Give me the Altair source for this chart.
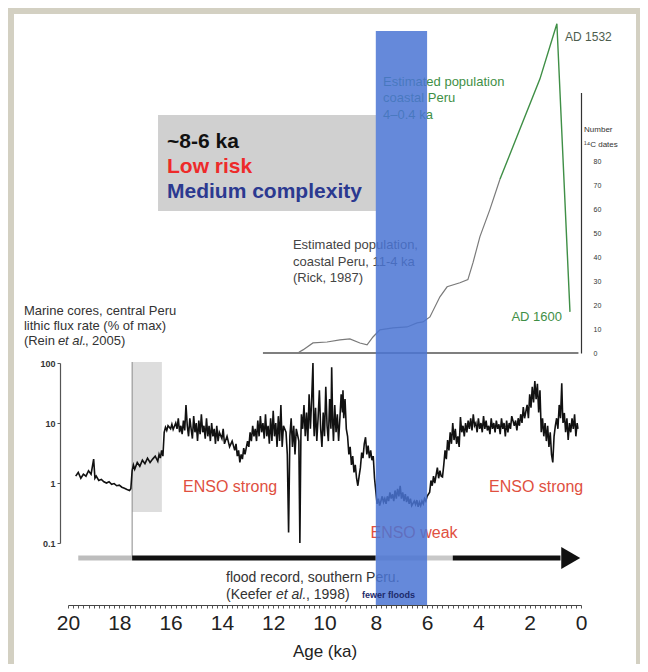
import altair as alt
import pandas as pd

# ---------------- data ----------------
# Marine core lithic flux rate (% of max)
flux_age = [19.7, 19.6, 19.5, 19.4, 19.3, 19.2, 19.1, 19.0, 18.95, 18.9, 18.8, 18.7, 18.6, 18.5, 18.4, 18.3,
            18.2, 18.1, 18.0, 17.9, 17.8, 17.7, 17.6, 17.55,
            17.5, 17.45, 17.4, 17.3, 17.2, 17.1, 17.0, 16.9, 16.8, 16.7, 16.6, 16.5, 16.45, 16.4, 16.35, 16.3,
            16.25, 16.2, 16.15, 16.1, 16.0, 15.95, 15.9, 15.8, 15.75, 15.7, 15.65, 15.6, 15.55, 15.5, 15.45,
            15.4, 15.35, 15.3, 15.25, 15.2, 15.15, 15.1, 15.05, 15.0, 14.95, 14.9, 14.85, 14.8, 14.75, 14.7,
            14.65, 14.6, 14.55, 14.5, 14.45, 14.4, 14.35, 14.3, 14.25, 14.2, 14.15, 14.1, 14.0, 13.95, 13.9,
            13.8, 13.7, 13.6, 13.5, 13.45, 13.4, 13.35, 13.3, 13.25, 13.2, 13.15, 13.1, 13.0, 12.95, 12.9,
            12.85, 12.8, 12.75, 12.7, 12.65, 12.6, 12.55, 12.5, 12.45, 12.4, 12.35, 12.3, 12.25, 12.2, 12.15,
            12.1, 12.05, 12.0, 11.95, 11.9, 11.85, 11.8, 11.75, 11.7, 11.65, 11.6,
            11.5, 11.45, 11.4, 11.35, 11.3, 11.25, 11.2, 11.15, 11.1, 11.0, 10.96, 10.92, 10.9,
            10.85, 10.8, 10.75, 10.7, 10.65, 10.6, 10.55, 10.5, 10.45, 10.42, 10.4, 10.35, 10.3, 10.25, 10.2,
            10.15, 10.1, 10.05, 10.0, 9.95, 9.9, 9.85, 9.8, 9.75, 9.72, 9.68, 9.65, 9.6, 9.55, 9.5, 9.45,
            9.4, 9.35, 9.3, 9.28, 9.25, 9.2, 9.15, 9.1,
            9.05, 9.0, 8.95, 8.9, 8.85, 8.8, 8.75, 8.7, 8.65, 8.6, 8.55, 8.5, 8.45, 8.4, 8.35, 8.3, 8.25,
            8.2, 8.15, 8.1, 8.05,
            7.95, 7.9, 7.85, 7.8, 7.75, 7.7, 7.65, 7.6, 7.55, 7.5, 7.45, 7.4, 7.35, 7.3, 7.25, 7.2, 7.15,
            7.1, 7.05, 7.0, 6.95, 6.9, 6.85, 6.8, 6.75, 6.7, 6.65, 6.6, 6.5, 6.45, 6.4, 6.35, 6.3, 6.25,
            6.2, 6.15, 6.1, 6.05, 6.0,
            5.9, 5.85, 5.8, 5.75, 5.7, 5.6, 5.55, 5.5, 5.45, 5.4, 5.35, 5.3, 5.25, 5.2, 5.15, 5.1, 5.05,
            5.0, 4.95, 4.9, 4.85, 4.8, 4.75, 4.7, 4.65, 4.6, 4.55, 4.5,
            4.45, 4.4, 4.35, 4.3, 4.25, 4.2, 4.15, 4.1, 4.05, 4.0, 3.95, 3.9, 3.85, 3.8, 3.75, 3.7, 3.65,
            3.6, 3.55, 3.5, 3.45, 3.4, 3.35, 3.3, 3.25, 3.2, 3.15, 3.1, 3.05, 3.0, 2.95, 2.9, 2.85, 2.8,
            2.75, 2.7, 2.6, 2.55, 2.5, 2.45, 2.4, 2.35, 2.3, 2.25, 2.2,
            2.1, 2.05, 2.0, 1.95, 1.9, 1.85, 1.8, 1.75, 1.7, 1.65, 1.6, 1.55, 1.5, 1.45, 1.4, 1.35, 1.3,
            1.25, 1.2, 1.15, 1.1, 1.05, 1.0, 0.95, 0.9, 0.85, 0.8, 0.75, 0.72, 0.7, 0.65, 0.6, 0.55, 0.5,
            0.45, 0.4, 0.35, 0.3, 0.25, 0.2, 0.15, 0.12]
flux_val = [1.3, 1.5, 1.2, 1.4, 1.3, 1.6, 1.4, 2.5, 1.2, 1.3, 1.1, 1.15, 1.05, 1.0, 1.05, 0.95,
            0.98, 0.9, 0.92, 0.85, 0.82, 0.78, 0.75, 0.8,
            1.6, 2.0, 1.7, 2.2, 1.9, 2.4, 2.1, 2.6, 2.2, 2.5, 2.8, 2.3, 3.0, 2.6, 3.5, 2.8,
            7.0, 8.5, 7.5, 9, 8, 9.5, 7.8, 10, 8, 12, 7, 9, 6.5, 11, 7.5,
            20, 9, 6, 12, 8, 5.5, 13, 7, 10, 5, 11, 6.5, 14, 7, 9,
            5.5, 12, 6, 9, 5, 10, 6, 8, 4.5, 9, 5, 7, 5.5, 8, 4.5,
            6, 4, 5, 3.5, 4.5, 2.8, 3.5, 2.2, 3.0, 2.5, 3.8, 3.0, 5, 4, 7,
            5, 9, 6, 8, 5, 11, 6, 13, 7, 10, 5.5, 14, 6, 9, 4.5,
            12, 5, 16, 6, 10, 4, 13, 5, 20, 4, 9,
            7, 3, 0.15, 6, 12, 4, 9, 3, 8, 5, 0.1, 6, 14,
            8, 20, 6, 15, 5, 30, 8, 25, 100, 10, 6, 18, 5, 12, 35,
            8, 4, 15, 6, 40, 9, 5, 25, 8, 85, 10, 5, 20, 7, 14, 5,
            12, 30, 15, 35, 12, 25, 8, 6,
            3, 4, 2, 2.8, 1.5, 2, 1.2, 0.9, 1.3, 1.8, 3.2, 2.6, 4.5, 5.8, 3, 4.2, 2.6,
            3.5, 2.4, 2.8, 1.2,
            0.45, 0.55, 0.42, 0.5, 0.6, 0.48, 0.55, 0.45, 0.6, 0.5, 0.7, 0.55, 0.65, 0.5, 0.75, 0.55, 0.8,
            0.6, 0.9, 0.55, 0.7, 0.5, 0.65, 0.48, 0.6, 0.45, 0.55, 0.42, 0.5, 0.44, 0.52, 0.4, 0.48, 0.42,
            0.5, 0.45, 0.55, 0.5, 0.6,
            0.7, 1.1, 0.9, 1.3, 1.0, 1.8, 1.2, 1.6, 1.3, 1.26, 2, 3.5, 2.5, 5.2, 3.5, 7, 4.5,
            10, 5.2, 8, 4.5, 6, 4, 12.6, 7, 9, 6, 10,
            7, 11, 8, 12, 7.5, 14, 9, 10, 7, 12, 8, 10, 7, 13, 8, 11, 7.5,
            9, 6.5, 12, 8, 10, 7, 11, 8, 9.5, 6.5, 12, 8, 10, 6, 11, 7, 10,
            8, 13, 9, 11, 7.5, 12, 9, 14, 10, 18.5, 12,
            20, 12, 30, 18, 40, 22, 50, 25, 45, 15, 35, 7, 12, 6, 10, 5, 9,
            4, 7, 3, 2.2, 6, 9, 12, 8, 20, 12, 46, 15, 10, 14.7, 7, 12, 5.2,
            10, 7, 12, 8, 14, 6, 10, 8]

# Estimated population, coastal Peru 11-4 ka (grey) and later (green), right axis units
pop_age = [11.0, 10.84, 10.45, 9.90, 9.40, 9.01, 8.62, 8.34, 8.11, 7.84, 7.33, 6.78, 6.39, 6.16,
           5.89, 5.50, 5.22, 4.72, 4.41, 4.21, 3.94, 3.55, 3.16]
pop_val = [0.3, 1.3, 4.2, 4.6, 5.5, 5.9, 4.2, 3.4, 6.7, 9.7, 10.5, 10.9, 12.6, 13.0,
           15.1, 23.5, 27.7, 29.4, 30.7, 37.8, 48.7, 60.1, 72.7]
pop2_age = [3.16, 2.38, 1.60, 0.94, 0.43]
pop2_val = [72.7, 93.7, 114.7, 137.8, 17.2]

# flood-record arrow segments (ka)
arrow_from = [19.6, 17.5, 8.0, 6.0, 5.0]
arrow_to = [17.5, 8.0, 6.0, 5.0, 0.8]
arrow_col = ["#bdbdbd", "#111111", "#c8c8c8", "#c8c8c8", "#111111"]

flux_ticks = [0.1, 1, 10, 100]
pop_ticks = [0, 10, 20, 30, 40, 50, 60, 70, 80]

# ---------------- scales / helpers ----------------
W, H = 513, 585
FONT = "Liberation Sans"
XS = alt.Scale(domain=[20, 0], nice=False, zero=False)
XAX = alt.Axis(values=[i * 0.2 for i in range(101)],
               labelExpr="abs(datum.value - round(datum.value)) < 0.01 && round(datum.value) % 2 == 0 ? format(round(datum.value), 'd') : ''",
               labelOverlap=False, labelFlush=False, labelFontSize=21, labelColor="#222",
               labelPadding=4, tickSize=3, tickColor="#555", domainColor="#444", domainWidth=1.2,
               grid=False, titleFontSize=17, titleFontWeight="normal", titleColor="#222",
               titlePadding=10, zindex=1)


def X(f="age"):
    return alt.X(f"{f}:Q", scale=XS, axis=XAX, title="Age (ka)")


PX = alt.Scale(domain=[0, H], range=[0, H], nice=False, zero=False)
FLUX = alt.Scale(type="log", domain=[0.1, 100], range=[523, 343], nice=False)
POP = alt.Scale(domain=[0, 109], range=[333, 72.5], nice=False, zero=False)


def PY(f="py"):
    return alt.Y(f"{f}:Q", scale=PX, axis=None)


def texts(ages, pys, labels, **mk):
    df = pd.DataFrame({"age": ages, "py": pys, "t": labels})
    mk.setdefault("font", FONT)
    return alt.Chart(df).mark_text(baseline="middle", **mk).encode(x=X(), y=PY(), text="t:N")


def box(a1, a2, p1, p2, **mk):
    df = pd.DataFrame({"age": [a1], "age2": [a2], "py": [p1], "py2": [p2]})
    return alt.Chart(df).mark_rect(**mk).encode(x=X(), x2="age2:Q", y=PY(), y2="py2:Q")


# ---------------- layers ----------------
bg = alt.Chart(pd.DataFrame({"a": [0]})).mark_rect(color="white").encode(
    x=alt.value(-54), x2=alt.value(568), y=alt.value(-6), y2=alt.value(700))

grey_box = box(16.49, 7.99, 95, 191, color="#d0d0d0")
light_band = box(17.5, 16.34, 342, 492, color="#dddddd")

vline = alt.Chart(pd.DataFrame({"age": [17.5], "py": [342], "py2": [538]})).mark_rule(
    color="#8a8a8a", strokeWidth=1).encode(x=X(), y=PY(), y2="py2:Q")

arrow = alt.Chart(pd.DataFrame({"age": arrow_from, "age2": arrow_to, "c": arrow_col,
                                "py": [538] * len(arrow_from)})).mark_rule(strokeWidth=5).encode(
    x=X(), x2="age2:Q", y=PY(), color=alt.Color("c:N", scale=None))
head = alt.Chart(pd.DataFrame({"age": [0.4], "py": [538]})).mark_point(
    shape="triangle-right", filled=True, size=480, color="#111111", opacity=1).encode(x=X(), y=PY())

pop_base = alt.Chart(pd.DataFrame({"age": [12.4], "age2": [0.1], "v": [0]})).mark_rule(
    color="#555", strokeWidth=1.5).encode(x=X(), x2="age2:Q", y=alt.Y("v:Q", scale=POP, axis=None))

pop_line = alt.Chart(pd.DataFrame({"age": pop_age, "v": pop_val})).mark_line(
    color="#7a7a7a", strokeWidth=1.2).encode(
    x=X(), y=alt.Y("v:Q", scale=POP,
                   axis=alt.Axis(orient="right", values=pop_ticks, labelFontSize=7, labelColor="#333",
                                 tickSize=0, labelPadding=12, domainColor="#333", domainWidth=1.2,
                                 grid=False, title=None, zindex=1)))
pop_line2 = alt.Chart(pd.DataFrame({"age": pop2_age, "v": pop2_val})).mark_line(
    color="#3f8f46", strokeWidth=1.4).encode(x=X(), y=alt.Y("v:Q", scale=POP, axis=None))

flux_line = alt.Chart(pd.DataFrame({"age": flux_age, "v": flux_val})).mark_line(
    color="#111111", strokeWidth=1.6).encode(
    x=X(), y=alt.Y("v:Q", scale=FLUX,
                   axis=alt.Axis(orient="left", values=flux_ticks, offset=8, labelFontSize=9,
                                 labelFontWeight="bold", labelColor="#333", tickSize=3,
                                 tickColor="#555", domainColor="#555", domainWidth=1.2, grid=False,
                                 labelPadding=2, title=None, zindex=1,
                                 labelExpr="datum.value < 1 ? '0.1' : format(datum.value, 'd')")))

marine = texts([21.72, 21.72, 21.72], [291, 306, 321],
               ["Marine cores, central Peru", "lithic flux rate (% of max)", "(Rein "],
               align="left", fontSize=13, color="#333")
marine_it = texts([21.72], [321], ["et al."], align="left", fontSize=13, color="#333",
                  fontStyle="italic", dx=34)
marine_end = texts([21.72], [321], [", 2005)"], align="left", fontSize=13, color="#333", dx=61)

risk1 = texts([16.14], [122], ["~8-6 ka"], align="left", fontSize=21, fontWeight="bold", color="#111")
risk2 = texts([16.14], [147], ["Low risk"], align="left", fontSize=21, fontWeight="bold", color="#ee2a2a")
risk3 = texts([16.14], [172], ["Medium complexity"], align="left", fontSize=21, fontWeight="bold",
              color="#2b3990")

green_txt = texts([7.72, 7.72, 7.72], [62, 78, 95],
                  ["Estimated population", "coastal Peru", "4\u20130.4 ka"],
                  align="left", fontSize=13, color="#3f8f46")
ad1532 = texts([0.62], [17], ["AD 1532"], align="left", fontSize=12, color="#4d5d4d")
ad1600 = texts([0.74], [297], ["AD 1600"], align="right", fontSize=13, color="#3f8f46")
number = texts([-0.12, -0.12], [110, 125], ["Number", "\u00b9\u2074C dates"], align="left",
               fontSize=8, color="#333")
grey_txt = texts([11.23, 11.23, 11.23], [225, 242, 258],
                 ["Estimated population,", "coastal Peru, 11-4 ka", "(Rick, 1987)"],
                 align="left", fontSize=13, color="#444")

enso = texts([13.68, 1.75, 6.51], [467, 467, 513], ["ENSO strong", "ENSO strong", "ENSO weak"],
             align="center", fontSize=16, color="#e0503f")

flood = texts([13.84, 13.84], [558, 575], ["flood record, southern Peru.", "(Keefer "],
              align="left", fontSize=14, color="#333")
flood_it = texts([13.84], [575], ["et al."], align="left", fontSize=14, color="#333",
                 fontStyle="italic", dx=50)
flood_end = texts([13.84], [575], [", 1998)"], align="left", fontSize=14, color="#333", dx=80)

blue = box(8.0, 6.0, 11, 585, color="#4a74d4", opacity=0.85)
fewer = texts([8.54], [575], ["fewer floods"], align="left", fontSize=9, fontWeight="bold",
              color="#1c2a6b")

chart = alt.layer(
    bg, grey_box, light_band, vline, arrow, head, pop_base, pop_line, pop_line2, flux_line,
    marine, marine_it, marine_end, risk1, risk2, risk3, green_txt, ad1532, ad1600, number,
    grey_txt, enso, flood, flood_it, flood_end, blue, fewer
).resolve_scale(y="independent").properties(
    width=W, height=H,
    padding={"left": 60, "top": 12, "right": 59, "bottom": 59},
    autosize=alt.AutoSizeParams(type="none"),
    background="#d3d0c2",
).configure_view(stroke=None).configure(font=FONT)

chart.save("out.html", embed_options={"renderer": "svg", "actions": False})
